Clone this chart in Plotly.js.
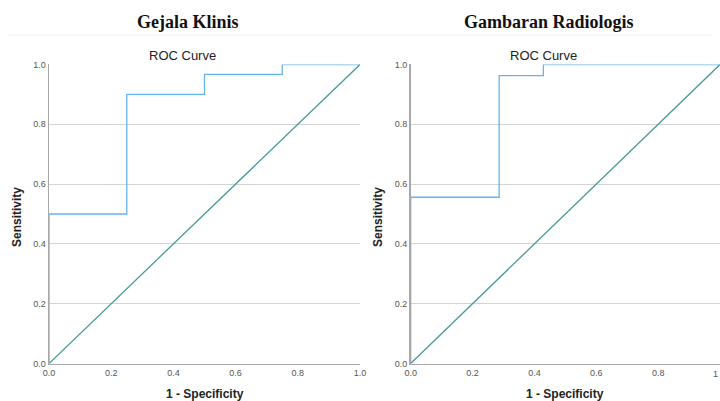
<!DOCTYPE html>
<html>
<head>
<meta charset="utf-8">
<script src="https://cdn.plot.ly/plotly-3.0.1.min.js"></script>
<style>html,body{margin:0;padding:0;background:#fff;}#chart{width:720px;height:401px;}</style>
</head>
<body>
<div id="chart"></div>
<script>
// Left panel: Gejala Klinis ROC curve
const klinisFPR = [0, 0, 0.25, 0.25, 0.5, 0.5, 0.75, 0.75, 1];
const klinisTPR = [0, 0.5, 0.5, 0.9, 0.9, 0.967, 0.967, 1, 1];
// Right panel: Gambaran Radiologis ROC curve
const radioFPR = [0, 0, 0.286, 0.286, 0.429, 0.429, 1];
const radioTPR = [0, 0.556, 0.556, 0.963, 0.963, 1, 1];
// Reference line
const refX = [0, 1];
const refY = [0, 1];
const tickVals = [0, 0.2, 0.4, 0.6, 0.8, 1.0];
const tickText = ['0.0', '0.2', '0.4', '0.6', '0.8', '1.0'];
const rightTickText = ['0.0', '0.2', '0.4', '0.6', '0.8', '1'];
const panelTitles = ['Gejala Klinis', 'Gambaran Radiologis'];

const curveColor = '#64b4ee';
const refColor = '#4a9a98';

const traces = [
  {x: klinisFPR, y: klinisTPR, xaxis: 'x', yaxis: 'y', mode: 'lines', line: {color: curveColor, width: 1.3}, hoverinfo: 'skip'},
  {x: refX, y: refY, xaxis: 'x', yaxis: 'y', mode: 'lines', line: {color: refColor, width: 1.3}, hoverinfo: 'skip'},
  {x: radioFPR, y: radioTPR, xaxis: 'x2', yaxis: 'y2', mode: 'lines', line: {color: curveColor, width: 1.3}, hoverinfo: 'skip'},
  {x: refX, y: refY, xaxis: 'x2', yaxis: 'y2', mode: 'lines', line: {color: refColor, width: 1.3}, hoverinfo: 'skip'}
];

const tickFont = {family: 'Liberation Sans, Arial', size: 9, color: '#555'};

function xAxis(domain, anchor, ticktext) {
  return {
    domain: domain, anchor: anchor, range: [0, 1], fixedrange: true,
    tickvals: tickVals, ticktext: ticktext, ticks: '', showgrid: false, zeroline: false,
    showline: true, linecolor: '#a8a8a8', linewidth: 1.5,
    tickfont: tickFont
  };
}
function yAxis(anchor) {
  return {
    domain: [0.0935, 0.8392], anchor: anchor, range: [0, 1], fixedrange: true,
    tickvals: tickVals, ticktext: tickText, ticks: '', showgrid: true, gridcolor: '#d4d4d4', gridwidth: 1,
    zeroline: false, showline: true, linecolor: '#a8a8a8', linewidth: 1.5,
    tickfont: tickFont
  };
}

const layout = {
  width: 720, height: 401,
  margin: {l: 0, r: 0, t: 0, b: 0},
  paper_bgcolor: '#fff', plot_bgcolor: '#fff',
  showlegend: false,
  xaxis: xAxis([0.0681, 0.5], 'y', tickText),
  yaxis: yAxis('x'),
  xaxis2: xAxis([0.5704, 1.0], 'y2', rightTickText),
  yaxis2: yAxis('x2'),
  shapes: [
    {type: 'line', xref: 'paper', yref: 'paper', x0: 0.01, x1: 0.51, y0: 1 - 35/401, y1: 1 - 35/401, line: {color: '#f2f2f2', width: 1}},
    {type: 'line', xref: 'paper', yref: 'paper', x0: 0.51, x1: 0.99, y0: 1 - 35/401, y1: 1 - 35/401, line: {color: '#f2f2f2', width: 1}}
  ],
  annotations: [
    {text: '<b>' + panelTitles[0] + '</b>', xref: 'paper', yref: 'paper', x: 188/720, y: 1 - 22/401, xanchor: 'center', yanchor: 'middle', showarrow: false, font: {family: 'Liberation Serif, Times New Roman', size: 18, color: '#111'}},
    {text: '<b>' + panelTitles[1] + '</b>', xref: 'paper', yref: 'paper', x: 549/720, y: 1 - 22/401, xanchor: 'center', yanchor: 'middle', showarrow: false, font: {family: 'Liberation Serif, Times New Roman', size: 18, color: '#111'}},
    {text: 'ROC Curve', xref: 'paper', yref: 'paper', x: 182/720, y: 1 - 55/401, xanchor: 'center', yanchor: 'middle', showarrow: false, font: {family: 'Liberation Sans, Arial', size: 13, color: '#222'}},
    {text: 'ROC Curve', xref: 'paper', yref: 'paper', x: 543/720, y: 1 - 55/401, xanchor: 'center', yanchor: 'middle', showarrow: false, font: {family: 'Liberation Sans, Arial', size: 13, color: '#222'}},
    {text: '<b>1 - Specificity</b>', xref: 'paper', yref: 'paper', x: 205/720, y: 1 - 394/401, xanchor: 'center', yanchor: 'middle', showarrow: false, font: {family: 'Liberation Sans, Arial', size: 12, color: '#222'}},
    {text: '<b>1 - Specificity</b>', xref: 'paper', yref: 'paper', x: 565/720, y: 1 - 394/401, xanchor: 'center', yanchor: 'middle', showarrow: false, font: {family: 'Liberation Sans, Arial', size: 12, color: '#222'}},
    {text: '<b>Sensitivity</b>', xref: 'paper', yref: 'paper', x: 17/720, y: 1 - 217/401, xanchor: 'center', yanchor: 'middle', textangle: -90, showarrow: false, font: {family: 'Liberation Sans, Arial', size: 12, color: '#222'}},
    {text: '<b>Sensitivity</b>', xref: 'paper', yref: 'paper', x: 378/720, y: 1 - 217/401, xanchor: 'center', yanchor: 'middle', textangle: -90, showarrow: false, font: {family: 'Liberation Sans, Arial', size: 12, color: '#222'}},
    // last tick label of the right x-axis, which sits at the page edge
    {text: rightTickText[5], xref: 'paper', yref: 'paper', x: 1, y: 1 - 367/401, xanchor: 'right', yanchor: 'top', showarrow: false, font: tickFont}
  ]
};

Plotly.newPlot('chart', traces, layout, {displayModeBar: false, staticPlot: true});
</script>
</body>
</html>
